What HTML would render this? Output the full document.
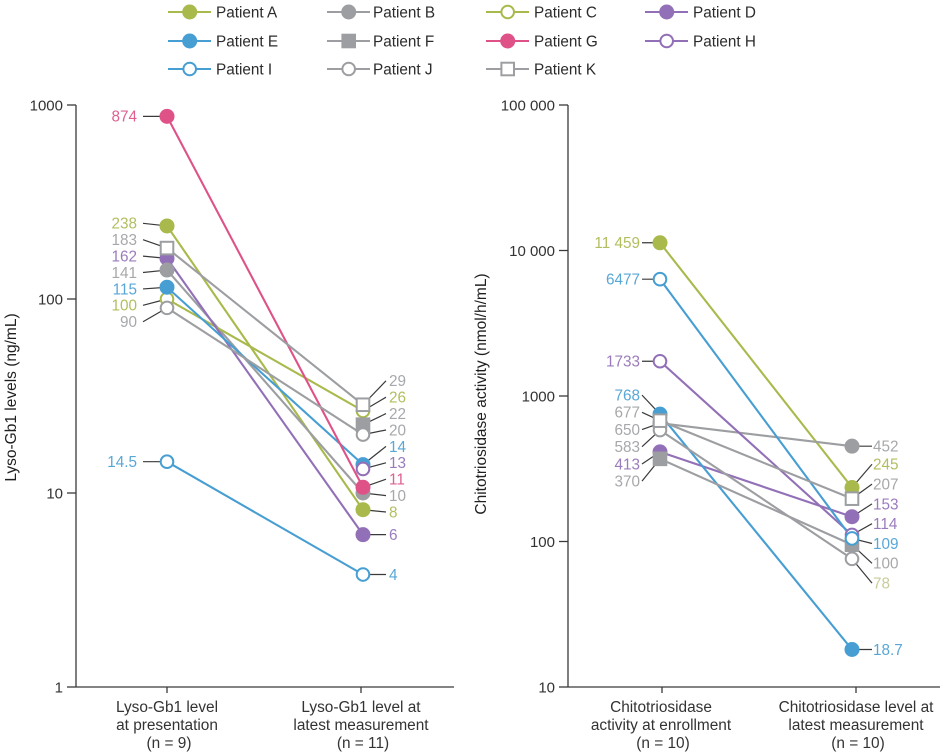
<!DOCTYPE html>
<html lang="en">
<head>
<meta charset="utf-8">
<title>Lyso-Gb1 and chitotriosidase levels by patient</title>
<style>
  html, body { margin: 0; padding: 0; background: #fff; }
  #chart { display: block; width: 944px; height: 756px; font-family: "Liberation Sans", Arial, sans-serif; }
  text { font-family: "Liberation Sans", Arial, sans-serif; }
</style>
</head>
<body>
<svg id="chart" xmlns="http://www.w3.org/2000/svg" width="944" height="756" viewBox="0 0 944 756">
  <g id="legend"></g>
  <g id="panel-left">
    <text transform="translate(16,397.5) rotate(-90)" text-anchor="middle" font-size="15.5" fill="#1f1f1f">Lyso-Gb1 levels (ng/mL)</text>
    <text text-anchor="middle" font-size="15.4" fill="#333">
      <tspan x="167" y="712">Lyso-Gb1 level</tspan><tspan x="167" y="730">at presentation</tspan><tspan x="169" y="748">(n = 9)</tspan>
    </text>
    <text text-anchor="middle" font-size="15.4" fill="#333">
      <tspan x="361" y="712">Lyso-Gb1 level at</tspan><tspan x="361" y="730">latest measurement</tspan><tspan x="363" y="748">(n = 11)</tspan>
    </text>
  </g>
  <g id="panel-right">
    <text transform="translate(486,394) rotate(-90)" text-anchor="middle" font-size="15.5" fill="#1f1f1f">Chitotriosidase activity (nmol/h/mL)</text>
    <text text-anchor="middle" font-size="15.4" fill="#333">
      <tspan x="661" y="712">Chitotriosidase</tspan><tspan x="661" y="730">activity at enrollment</tspan><tspan x="663" y="748">(n = 10)</tspan>
    </text>
    <text text-anchor="middle" font-size="15.4" fill="#333">
      <tspan x="856" y="712">Chitotriosidase level at</tspan><tspan x="856" y="730">latest measurement</tspan><tspan x="858" y="748">(n = 10)</tspan>
    </text>
  </g>
</svg>
<script>
const patients = ['A', 'B', 'C', 'D', 'E', 'F', 'G', 'H', 'I', 'J', 'K'];
const patientHues = ['olive', 'grey', 'olive', 'purple', 'blue', 'grey', 'pink', 'purple', 'blue', 'grey', 'grey'];
const patientShapes = ['filled', 'filled', 'open', 'filled', 'filled', 'square', 'filled', 'open', 'open', 'open', 'openSquare'];

const lysoPresentation = [238, 141, 100, 162, 115, null, 874, null, 14.5, 90, 183];
const lysoLatest = [8.2, 10, 26.5, 6.1, 14, 22.5, 10.7, 13.3, 3.8, 20, 28.5];
const lysoPresentationLabels = ['238', '141', '100', '162', '115', null, '874', null, '14.5', '90', '183'];
const lysoLatestLabels = ['8', '10', '26', '6', '14', '22', '11', '13', '4', '20', '29'];
const lysoTicks = [1000, 100, 10, 1];
const lysoTickLabels = ['1000', '100', '10', '1'];

const chitoEnrollment = [11300, 650, null, 413, 750, 370, null, 1733, 6350, 583, 677];
const chitoLatest = [235, 452, null, 148, 18.1, 95, null, 111, 105, 76, 197];
const chitoEnrollmentLabels = ['11 459', '650', null, '413', '768', '370', null, '1733', '6477', '583', '677'];
const chitoLatestLabels = ['245', '452', null, '153', '18.7', '100', null, '114', '109', '78', '207'];
const chitoTicks = [100000, 10000, 1000, 100, 10];
const chitoTickLabels = ['100 000', '10 000', '1000', '100', '10'];

const SVGNS = 'http://www.w3.org/2000/svg';
const lineColors = { olive: '#a9b94b', grey: '#9c9ea1', purple: '#9270b7', blue: '#479ed2', pink: '#de5288' };
const textColors = { olive: '#b3be5f', grey: '#a6a8ab', purple: '#9a7cbc', blue: '#58a7d6', pink: '#de5f90' };

function make(tag, parent, attrs) {
  const el = document.createElementNS(SVGNS, tag);
  for (const k in attrs) el.setAttribute(k, attrs[k]);
  parent.appendChild(el);
  return el;
}

function drawMarker(parent, shape, color, x, y) {
  if (shape === 'filled') return make('circle', parent, { cx: x, cy: y, r: 7.5, fill: color });
  if (shape === 'open') return make('circle', parent, { cx: x, cy: y, r: 6.3, fill: '#fff', stroke: color, 'stroke-width': 2 });
  if (shape === 'square') return make('rect', parent, { x: x - 7.3, y: y - 7.3, width: 14.6, height: 14.6, fill: color });
  return make('rect', parent, { x: x - 6.3, y: y - 6.3, width: 12.6, height: 12.6, fill: '#fff', stroke: color, 'stroke-width': 2 });
}

/* Stack labels so they do not overlap: neighbours closer than minGap form a centred column. */
function layoutLabels(ys, spacing, bias, minGap) {
  const order = ys.map((y, i) => ({ y, i })).filter(d => d.y !== null).sort((a, b) => a.y - b.y);
  const groups = [];
  const mid = g => g.items.reduce((s, d) => s + d.y, 0) / g.items.length + (g.items.length > 1 ? bias : 0);
  const top = g => mid(g) - (g.items.length - 1) / 2 * spacing;
  const bottom = g => mid(g) + (g.items.length - 1) / 2 * spacing;
  order.forEach(d => {
    groups.push({ items: [d] });
    while (groups.length > 1 && bottom(groups[groups.length - 2]) + minGap > top(groups[groups.length - 1])) {
      const last = groups.pop();
      groups[groups.length - 1].items.push(...last.items);
    }
  });
  const out = ys.map(() => null);
  groups.forEach(g => g.items.forEach((d, k) => { out[d.i] = top(g) + k * spacing; }));
  return out;
}

function drawPanel(cfg) {
  const root = document.getElementById(cfg.id);
  const yScale = v => cfg.yTop + (Math.log10(cfg.yMax) - Math.log10(v)) * cfg.decade;
  const yBottom = yScale(cfg.ticks[cfg.ticks.length - 1]);

  const axes = make('g', root, { stroke: '#3a3a3a', 'stroke-width': 1.3 });
  
  

  const yAxis = make('line', axes, { x1: cfg.axisX, x2: cfg.axisX, y1: cfg.yTop, y2: yBottom });
  
  

  const xAxis = make('line', axes, { x1: cfg.axisX, x2: cfg.axisEnd, y1: yBottom, y2: yBottom });
  
  

  cfg.ticks.forEach((t, i) => {
    const y = yScale(t);
    const tick = make('line', axes, { x1: cfg.axisX - 9, x2: cfg.axisX, y1: y, y2: y });
    
    
    const lab = make('text', root, { x: cfg.axisX - 13, y: y + 5.3, 'text-anchor': 'end', 'font-size': 15, fill: '#333' });
    lab.textContent = cfg.tickLabels[i];
    
    
  });
  cfg.catTicks.forEach(x => {
    const tick = make('line', axes, { x1: x, x2: x, y1: yBottom, y2: yBottom + 6 });
    
    
  });

  const ya = cfg.start.map(v => v === null ? null : yScale(v));
  const yb = cfg.end.map(v => v === null ? null : yScale(v));
  const la = layoutLabels(ya, cfg.leftCol.spacing, cfg.leftCol.bias, cfg.leftCol.minGap);
  const lb = layoutLabels(yb, cfg.rightCol.spacing, cfg.rightCol.bias, cfg.rightCol.minGap);

  patients.forEach((p, i) => {
    if (ya[i] !== null) {
      const lead = make('line', root, { x1: cfg.leftCol.leaderX, y1: la[i], x2: cfg.x0, y2: ya[i], stroke: '#3a3a3a', 'stroke-width': 1.2 });
      
      
      const t = make('text', root, { x: cfg.leftCol.textX, y: la[i] + 5.4, 'text-anchor': 'end', 'font-size': 15.3, fill: cfg.labelColor(i) });
      t.textContent = cfg.startLabels[i];
      
      
    }
    if (yb[i] !== null) {
      const lead = make('line', root, { x1: cfg.x1, y1: yb[i], x2: cfg.rightCol.leaderX, y2: lb[i], stroke: '#3a3a3a', 'stroke-width': 1.2 });
      
      
      const t = make('text', root, { x: cfg.rightCol.textX, y: lb[i] + 5.4, 'font-size': 15.3, fill: cfg.labelColor(i, true) });
      t.textContent = cfg.endLabels[i];
      
      
    }
  });

  patients.forEach((p, i) => {
    if (ya[i] === null || yb[i] === null) return;
    const ln = make('line', root, { x1: cfg.x0, y1: ya[i], x2: cfg.x1, y2: yb[i], stroke: lineColors[patientHues[i]], 'stroke-width': 2.1 });
    
    
  });

  const zOrder = ['A', 'C', 'D', 'B', 'E', 'F', 'G', 'H', 'I', 'J', 'K'];
  zOrder.forEach(p => {
    const i = patients.indexOf(p);
    const col = lineColors[patientHues[i]];
    if (ya[i] !== null) {
      const m = drawMarker(root, patientShapes[i], col, cfg.x0, ya[i]);
      
      
    }
    if (yb[i] !== null) {
      const m = drawMarker(root, patientShapes[i], col, cfg.x1, yb[i]);
      
      
    }
  });
}

function drawLegend() {
  const g = document.getElementById('legend');
  const colX = [168, 327, 486, 645];
  const textOffset = [48, 46, 48, 48];
  const rowY = [12, 41, 69];
  patients.forEach((p, i) => {
    const c = i % 4, r = Math.floor(i / 4);
    const entry = make('g', g, {});
    
    
    const col = lineColors[patientHues[i]];
    const swatch = make('line', entry, { x1: colX[c], x2: colX[c] + 43, y1: rowY[r], y2: rowY[r], stroke: col, 'stroke-width': 2 });
    
    
    const m = drawMarker(entry, patientShapes[i], col, colX[c] + 21.7, rowY[r]);
    
    
    const t = make('text', entry, { x: colX[c] + textOffset[c], y: rowY[r] + 5.5, 'font-size': 15.3, fill: '#2b2b2b' });
    t.textContent = 'Patient ' + p;
    
    
  });
}

drawLegend();

drawPanel({
  id: 'panel-left', yMax: 1000, yTop: 105, decade: 194, axisX: 76, axisEnd: 454,
  ticks: lysoTicks, tickLabels: lysoTickLabels, catTicks: [167, 361], x0: 167, x1: 363,
  start: lysoPresentation, end: lysoLatest, startLabels: lysoPresentationLabels, endLabels: lysoLatestLabels,
  leftCol: { spacing: 16.4, bias: 1.6, minGap: 16.4, leaderX: 143, textX: 137 },
  rightCol: { spacing: 16.4, bias: -9, minGap: 16.4, leaderX: 386, textX: 389 },
  labelColor: i => textColors[patientHues[i]]
});

drawPanel({
  id: 'panel-right', yMax: 100000, yTop: 105, decade: 145.5, axisX: 568, axisEnd: 940,
  ticks: chitoTicks, tickLabels: chitoTickLabels, catTicks: [662, 856], x0: 660, x1: 852,
  start: chitoEnrollment, end: chitoLatest, startLabels: chitoEnrollmentLabels, endLabels: chitoLatestLabels,
  leftCol: { spacing: 17.2, bias: 5, minGap: 17.2, leaderX: 642, textX: 640 },
  rightCol: { spacing: 19.8, bias: -2, minGap: 16, leaderX: 872, textX: 873 },
  labelColor: (i, isEnd) => (isEnd && patients[i] === 'J') ? '#c9cc9a' : textColors[patientHues[i]]
});
</script>
</body>
</html>
